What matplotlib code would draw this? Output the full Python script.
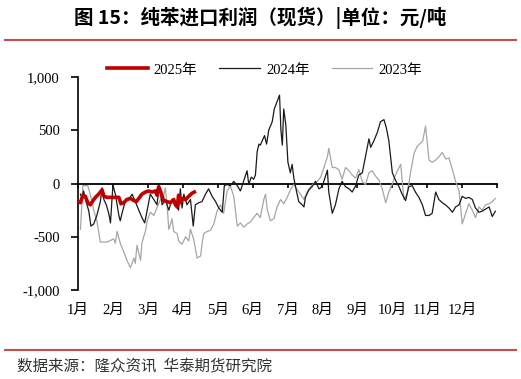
import matplotlib
matplotlib.use('Agg')
import matplotlib.pyplot as plt
from matplotlib.lines import Line2D

plt.rcParams['font.family'] = ['Liberation Serif', 'Noto Sans CJK SC']
plt.rcParams['axes.unicode_minus'] = False

# x = position within the year, in months (0 = 1 Jan, 12 = 31 Dec)
x_2025 = [0.00, 0.07, 0.14, 0.21, 0.28, 0.35, 0.43, 0.50, 0.59, 0.69, 0.74, 0.83, 1.02, 1.17,
          1.23, 1.31, 1.40, 1.50, 1.60, 1.67, 1.74, 1.83, 1.93, 2.02, 2.12, 2.22, 2.26, 2.31,
          2.36, 2.45, 2.55, 2.65, 2.74, 2.79, 2.84, 2.88, 2.93, 2.98, 3.08, 3.17, 3.27, 3.33]
y_2025 = [-170, -180, -110, -120, -180, -200, -160, -130, -100, -60, -120, -130, -130, -130,
          -190, -180, -150, -140, -160, -170, -140, -100, -80, -70, -80, -70, -110, -30,
          -70, -160, -170, -180, -150, -200, -220, -110, -180, -140, -150, -120, -90, -80]

x_2024 = [0.07, 0.11, 0.16, 0.24, 0.31, 0.37, 0.45, 0.54, 0.64, 0.69, 0.74, 0.81, 0.88, 0.93,
          1.00, 1.07, 1.12, 1.17, 1.21, 1.26, 1.36, 1.45, 1.55, 1.64, 1.74, 1.83, 1.91, 1.98,
          2.07, 2.17, 2.26, 2.33, 2.41, 2.50, 2.60, 2.69, 2.79, 2.88, 2.93, 2.98, 3.03, 3.12,
          3.22, 3.30, 3.36, 3.46, 3.55, 3.65, 3.74, 3.84, 3.94, 4.03, 4.13, 4.19, 4.27, 4.36,
          4.46, 4.56, 4.65, 4.75, 4.84, 4.89, 4.96, 5.03, 5.08, 5.13, 5.18, 5.22, 5.30, 5.34,
          5.40, 5.46, 5.56, 5.62, 5.70, 5.77, 5.81, 5.85, 5.89, 5.95, 6.01, 6.08, 6.13, 6.18,
          6.26, 6.32, 6.42, 6.47, 6.51, 6.61, 6.70, 6.80, 6.90, 6.99, 7.14, 7.18, 7.28, 7.37,
          7.47, 7.56, 7.66, 7.76, 7.85, 7.95, 8.04, 8.14, 8.23, 8.33, 8.38, 8.47, 8.57, 8.66,
          8.76, 8.83, 8.90, 9.00, 9.09, 9.19, 9.28, 9.38, 9.47, 9.57, 9.66, 9.76, 9.86, 9.95,
          10.05, 10.14, 10.24, 10.33, 10.43, 10.52, 10.62, 10.72, 10.81, 10.91, 11.00, 11.10,
          11.19, 11.29, 11.38, 11.48, 11.57, 11.67, 11.77, 11.86, 11.95]
y_2024 = [-100, -130, -70, -180, -260, -400, -380, -300, -170, -40, -150, -200, -280, -370,
          -15, -100, -200, -300, -350, -280, -160, -150, -100, -170, -250, -320, -370, -250,
          -100, -150, -200, -20, -200, -150, -250, -150, -200, -250, -50, -230, -100, -200,
          -150, -400, -200, -180, -170, -100, -50, -120, -170, -230, -270, -20, -10, -20,
          20, -20, -70, 30, 120, -10, 60, 40, 80, 300, 370, 360, 420, 450,
          370, 500, 580, 700, 770, 830, 500, 360, 700, 550, 200, 100, 180, 50,
          -80, -170, -200, -220, -130, -60, -30, 20, -50, -30, 125, -80, -280, -200,
          -50, 20, -30, -50, -80, -20, 80, 100, 250, 420, 340, 400, 480, 580,
          600, 520, 400, 100, 30, -30, -100, -160, -30, -20, -80, -130, -200, -300,
          -300, -280, -80, -150, -180, -200, -230, -270, -220, -200, -120, -140,
          -130, -150, -230, -270, -260, -240, -220, -310, -260]

x_2023 = [0.07, 0.14, 0.28, 0.35, 0.45, 0.54, 0.64, 0.83, 1.02, 1.07, 1.12, 1.21, 1.31, 1.40,
          1.50, 1.60, 1.64, 1.69, 1.79, 1.83, 1.88, 1.93, 1.98, 2.07, 2.17, 2.26, 2.36, 2.45,
          2.50, 2.55, 2.60, 2.65, 2.69, 2.74, 2.84, 2.88, 2.98, 3.08, 3.17, 3.22, 3.31, 3.41,
          3.51, 3.55, 3.60, 3.70, 3.79, 3.89, 3.98, 4.08, 4.17, 4.27, 4.36, 4.46, 4.56, 4.65,
          4.75, 4.84, 4.94, 5.03, 5.13, 5.22, 5.32, 5.37, 5.42, 5.51, 5.61, 5.70, 5.80, 5.89,
          5.99, 6.08, 6.18, 6.28, 6.37, 6.47, 6.56, 6.66, 6.75, 6.85, 6.95, 7.04, 7.14, 7.18,
          7.28, 7.37, 7.47, 7.56, 7.66, 7.76, 7.85, 7.95, 8.04, 8.14, 8.23, 8.33, 8.42, 8.52,
          8.62, 8.71, 8.81, 8.90, 9.00, 9.09, 9.19, 9.24, 9.33, 9.42, 9.52, 9.62, 9.71, 9.81,
          9.87, 9.95, 10.05, 10.14, 10.24, 10.33, 10.43, 10.53, 10.62, 10.72, 10.81, 10.91,
          11.00, 11.10, 11.19, 11.29, 11.38, 11.48, 11.57, 11.67, 11.77, 11.86, 11.95]
y_2023 = [-430, -20, -20, -100, -250, -350, -550, -550, -520, -560, -450, -560, -640, -720,
          -790, -700, -750, -580, -720, -560, -500, -450, -350, -270, -300, -230, -150, -120,
          -40, -200, -430, -380, -330, -450, -470, -540, -570, -500, -540, -430, -520, -700,
          -680, -570, -470, -450, -440, -380, -260, -200, -280, -70, -20, -120, -400, -370,
          -410, -380, -360, -320, -280, -320, -150, -100, -250, -350, -330, -220, -150, -190,
          -130, -60, -10, -60, -100, -150, -80, -30, 0, 20, 60, 150, 250, 330,
          150, 150, 130, 40, 150, 120, 80, 50, 130, 20, -10, 100, 120, 70,
          30, -50, -180, -80, 0, 80, 150, 180, -150, -100, 100, 280, 350, 380,
          400, 540, 220, 200, 220, 250, 290, 230, 240, 130, 20, -70,
          -380, -280, -190, -250, -320, -220, -250, -200, -190, -170, -140]

months = ['1月', '2月', '3月', '4月', '5月', '6月', '7月', '8月', '9月', '10月', '11月', '12月']
y_ticks = [-1000, -500, 0, 500, 1000]
y_tick_labels = ['-1,000', '-500', '0', '500', '1,000']

fig = plt.figure(figsize=(5.21, 3.79), dpi=100)
ax = fig.add_axes([0.1497, 0.2348, 0.8045, 0.562])

ax.plot(x_2023, y_2023, color='#a6a6a6', linewidth=0.9, label='2023年', zorder=2)
ax.plot(x_2024, y_2024, color='#1a1a1a', linewidth=0.9, label='2024年', zorder=3)
ax.plot(x_2025, y_2025, color='#c00000', linewidth=2.6, label='2025年', zorder=4)

ax.set_xlim(0, 12)
ax.set_ylim(-1000, 1000)
ax.set_yticks(y_ticks)
ax.set_yticklabels(y_tick_labels)
ax.set_xticks(range(12))
ax.set_xticklabels(months)

for s in ['top', 'right', 'bottom']:
    ax.spines[s].set_visible(False)
ax.spines['left'].set_linewidth(1.2)
ax.tick_params(axis='y', direction='out', length=5, width=1.2, pad=8, labelsize=10.5)
ax.tick_params(axis='x', length=0, pad=10, labelsize=10.5)

# zero line with month ticks
zero = ax.secondary_xaxis(0.5)
zero.set_xticks(range(13))
zero.set_xticklabels([])
zero.tick_params(direction='in', length=3, width=1.2)
zero.spines['top'].set_linewidth(1.3)
zero.spines['bottom'].set_visible(False)

handles, labels = ax.get_legend_handles_labels()
order = [2, 1, 0]
ax.legend([handles[i] for i in order], [labels[i] for i in order],
          loc='center', bbox_to_anchor=(0.445, 1.033), ncol=3, frameon=False,
          fontsize=10.5, handlelength=2.8, columnspacing=1.5, handletextpad=0.4)

# title, rules and source
fig.text(0.5, 0.952, '图 15：纯苯进口利润（现货）|单位：元/吨', ha='center', va='center',
         fontsize=14, fontweight='bold', family=['Noto Sans CJK SC', 'DejaVu Sans'])
fig.add_artist(Line2D([0.01, 0.99], [0.894, 0.894], color='#c0504d', linewidth=1.5))
fig.add_artist(Line2D([0.01, 0.99], [0.0765, 0.0765], color='#c0504d', linewidth=1.5))
fig.text(0.032, 0.032, '数据来源：隆众资讯  华泰期货研究院', ha='left', va='center',
         fontsize=11.2, color='#333333', family=['Noto Sans CJK SC', 'DejaVu Sans'])

fig.savefig('out.png', dpi=100)
